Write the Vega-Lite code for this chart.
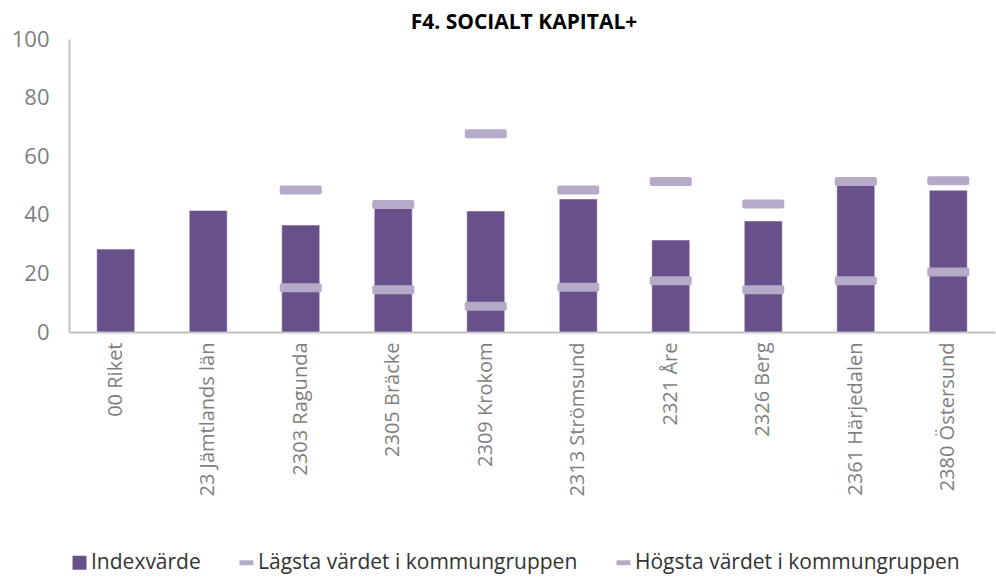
{
  "$schema": "https://vega.github.io/schema/vega-lite/v6.json",
  "width": 926,
  "height": 293,
  "autosize": "none",
  "padding": {"left": 69, "top": 39, "right": 1, "bottom": 246},
  "background": "white",
  "title": {
    "text": "F4. SOCIALT KAPITAL+",
    "font": "Open Sans",
    "fontSize": 21,
    "fontWeight": "bold",
    "color": "#000000",
    "anchor": "middle",
    "dx": -8,
    "offset": -5
  },
  "config": {
    "view": {"stroke": null},
    "font": "Open Sans"
  },
  "data": {
    "values": [
      {"omrade": "00 Riket", "index": 28.3, "lagsta": null, "hogsta": null},
      {"omrade": "23 Jämtlands län", "index": 41.5, "lagsta": null, "hogsta": null},
      {"omrade": "2303 Ragunda", "index": 36.5, "lagsta": 15.1, "hogsta": 48.5},
      {"omrade": "2305 Bräcke", "index": 43.2, "lagsta": 14.4, "hogsta": 43.5},
      {"omrade": "2309 Krokom", "index": 41.3, "lagsta": 8.8, "hogsta": 67.7},
      {"omrade": "2313 Strömsund", "index": 45.4, "lagsta": 15.3, "hogsta": 48.5},
      {"omrade": "2321 Åre", "index": 31.4, "lagsta": 17.5, "hogsta": 51.4},
      {"omrade": "2326 Berg", "index": 37.9, "lagsta": 14.4, "hogsta": 43.7},
      {"omrade": "2361 Härjedalen", "index": 50.2, "lagsta": 17.5, "hogsta": 51.4},
      {"omrade": "2380 Östersund", "index": 48.4, "lagsta": 20.5, "hogsta": 51.6}
    ]
  },
  "encoding": {
    "x": {
      "field": "omrade",
      "type": "nominal",
      "sort": null,
      "title": null,
      "scale": {"paddingInner": 0.59, "paddingOuter": 0.3},
      "axis": {
        "labelAngle": -90,
        "labelFontSize": 20,
        "labelColor": "#7f7f7f",
        "labelFont": "Open Sans",
        "labelPadding": 10,
        "ticks": false,
        "domainColor": "#bfbfbf",
        "domainWidth": 2,
        "labelLimit": 300
      }
    }
  },
  "layer": [
    {
      "mark": {"type": "bar", "size": 38, "stroke": "#ffffff", "strokeWidth": 0.5},
      "encoding": {
        "y": {
          "field": "index",
          "type": "quantitative",
          "title": null,
          "scale": {"domain": [0, 100]},
          "axis": {
            "values": [0, 20, 40, 60, 80, 100],
            "grid": false,
            "ticks": false,
            "labelFontSize": 22,
            "labelColor": "#7f7f7f",
            "labelFont": "Open Sans",
            "labelPadding": 20,
            "domainColor": "#bfbfbf",
            "domainWidth": 2
          }
        },
        "color": {
          "datum": "Indexvärde",
          "type": "nominal",
          "scale": {
            "domain": ["Indexvärde", "Lägsta värdet i kommungruppen", "Högsta värdet i kommungruppen"],
            "range": ["#68518a", "#b5aac8", "#b5aac8"]
          },
          "legend": {
            "title": null,
            "orient": "none",
            "legendX": 0,
            "legendY": 513,
            "direction": "horizontal",
            "labelFontSize": 21,
            "labelFont": "Open Sans",
            "labelColor": "#333333",
            "symbolSize": 196,
            "symbolStrokeWidth": 0,
            "symbolType": {"expr": "datum.value === 'Indexvärde' ? 'square' : 'M-1,-0.35H1V0.35H-1Z'"},
            "columnPadding": 35,
            "labelOffset": 1,
            "labelLimit": 400
          }
        }
      }
    },
    {
      "mark": {"type": "tick", "size": 42, "thickness": 9, "cornerRadius": 2, "opacity": 1},
      "encoding": {
        "y": {"field": "lagsta", "type": "quantitative"},
        "color": {"datum": "Lägsta värdet i kommungruppen", "type": "nominal"}
      }
    },
    {
      "mark": {"type": "tick", "size": 42, "thickness": 9, "cornerRadius": 2, "opacity": 1},
      "encoding": {
        "y": {"field": "hogsta", "type": "quantitative"},
        "color": {"datum": "Högsta värdet i kommungruppen", "type": "nominal"}
      }
    }
  ]
}
